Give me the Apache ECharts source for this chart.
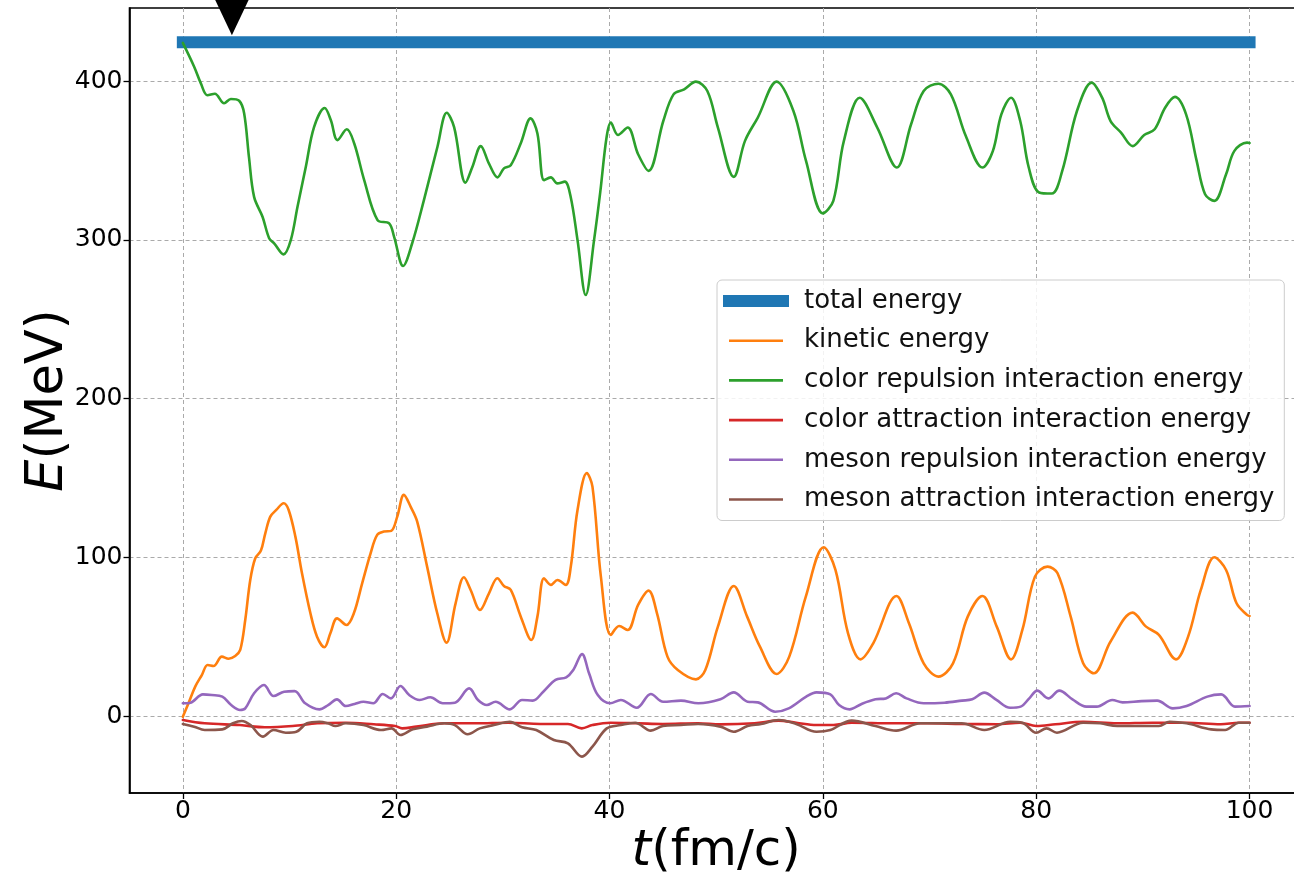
<!DOCTYPE html>
<html><head><meta charset="utf-8">
<script src="https://cdn.jsdelivr.net/npm/echarts@6/dist/echarts.min.js"></script>
<style>html,body{margin:0;padding:0;background:#fff}#c{width:1294px;height:873px}</style>
</head><body><div id="c"></div><script>
const xTicks = [0, 20, 40, 60, 80, 100];
const yTicks = [0, 100, 200, 300, 400];
const seriesNames = ['total energy','kinetic energy','color repulsion interaction energy','color attraction interaction energy','meson repulsion interaction energy','meson attraction interaction energy'];
const totalEnergy = [[0,424.5],[100,424.5]];
const marker = [[4.6,441.5]];
const kinetic = [[0,-0.5],[0.53,8],[1.16,18.5],[1.78,25.8],[2.32,32.1],[2.88,31.5],[3.66,37.4],[4.29,36.1],[4.91,37.8],[5.38,41.6],[5.85,60.5],[6.32,85.7],[6.79,99.4],[7.32,104.2],[7.73,115.1],[8.2,125.6],[8.76,129.8],[9.45,134],[9.92,129.8],[10.55,113],[11.17,89.9],[11.96,64.7],[12.58,50],[13.27,43.3],[13.83,52.1],[14.46,61.5],[15.34,57.3],[16.03,64.7],[16.81,83.6],[17.6,102.5],[18.22,114.1],[18.85,116.2],[19.53,116.6],[20.1,125.6],[20.72,139.3],[21.35,131.9],[21.97,122.5],[22.9,94.1],[23.85,64.7],[24.72,46.2],[25.57,71],[26.35,87.4],[26.98,79.4],[27.86,66.8],[28.7,77.3],[29.49,86.8],[30.1,81.9],[30.74,79.4],[31.68,62.6],[32.67,47.9],[33.24,62.6],[33.86,86.8],[34.49,82.6],[35.12,85.7],[35.9,82.6],[36.37,94.1],[37.0,129.8],[37.87,153],[38.4,144.5],[39.19,87.8],[40.12,51.1],[40.9,56.7],[41.7,54.2],[42.68,70],[43.66,79],[44.45,64.7],[45.43,37.4],[46.4,29],[48.1,23.1],[48.98,29],[50.16,56.3],[51.65,81.9],[52.9,62.6],[54.1,43.7],[55.67,26.5],[56.85,37.4],[58.4,75.2],[60.08,106.3],[61.18,92],[62.36,52.1],[63.54,35.7],[64.72,45.8],[66.9,75.6],[68.07,58.4],[69.45,33.2],[70.83,24.8],[72.2,33.2],[73.58,62.6],[74.96,75.6],[76.3,56.3],[77.64,35.7],[78.7,54.2],[79.88,87.8],[81.06,94.1],[82.0,89.9],[83.23,62.6],[84.4,33.2],[85.4,26.9],[86.97,46.9],[89.05,65.1],[90.3,56.3],[91.5,51.1],[93.1,35.7],[94.24,50],[95.43,79.4],[96.7,100],[97.8,92],[98.78,71],[99.76,63.7],[100,63]];
const colorRepulsion = [[0,424],[1.06,409],[1.69,398.5],[2.31,391],[3.0,392],[3.87,386],[4.5,388.7],[5.28,387.6],[5.75,379.6],[6.2,352],[6.68,327],[7.47,314.5],[8.09,301],[8.56,297.8],[9.44,290.8],[10.12,299.8],[10.75,320.8],[11.53,346],[12.3,371],[13.3,383],[13.87,375.4],[14.5,362.8],[15.37,369.6],[16.06,360.8],[17.0,337.6],[18.25,312.4],[19.34,310.3],[19.8,302],[20.65,283.5],[21.5,297.8],[22.6,325],[23.87,358.6],[24.74,380],[25.43,371],[26.5,336],[27.15,346],[27.93,359],[28.7,348],[29.5,339.3],[30.1,345],[30.74,347],[31.68,360.8],[32.6,376.5],[33.24,367],[33.86,337.6],[34.5,339.3],[35.1,335.5],[35.8,336.6],[36.36,327],[37,299.8],[37.77,265.2],[38.55,299.8],[39.13,330],[39.72,364.4],[40.12,373.8],[40.79,366],[41.7,370.7],[42.68,353.9],[43.66,343.4],[45.04,374.8],[46.0,391.6],[47.0,394.8],[48.1,399.6],[49.17,393.7],[50.16,370.7],[51.65,339.6],[52.7,362.3],[53.9,377],[55.67,399.6],[57.24,381.1],[58.42,349.7],[60.0,316.6],[60.98,324.5],[61.97,362.3],[63.46,389.5],[65.1,370.7],[66.93,345.5],[68.27,372.8],[69.45,393.7],[70.83,398.3],[72.0,391.6],[73.4,365.4],[74.96,345.5],[75.94,356],[76.73,379],[77.64,389.5],[78.5,374.8],[79.3,345.5],[80.27,329.8],[81.46,329.1],[82.44,343.4],[83.82,381.1],[85.2,399],[86.18,389.5],[86.97,374.8],[87.95,367.5],[89.05,359],[90.12,366],[91.1,369.6],[92.08,383.2],[93.0,390],[94.05,379],[95.04,349.7],[95.83,328.7],[96.7,324.5],[97.8,341.3],[98.58,356],[99.76,361.2],[100,361]];
const colorAttraction = [[0,-2.5],[2.05,-4.6],[5.36,-5.7],[7.67,-7.1],[10.3,-6.3],[12.6,-4.6],[15.27,-4.2],[17.9,-5.2],[19.9,-6.3],[20.56,-7.8],[21.9,-6.7],[24.5,-4.6],[27.5,-4.6],[30.5,-4.2],[33.5,-5],[36.1,-5],[37.4,-7.8],[38.4,-5.7],[40.07,-4.2],[42.7,-4.6],[45,-5],[48.3,-4.6],[50.4,-5.3],[53.6,-4.6],[55.85,-2.9],[57.5,-4.2],[59.4,-5.7],[61,-5.7],[62.7,-4.2],[66.5,-4.6],[69.8,-4.6],[73,-5],[76.3,-5.2],[78.5,-4.2],[80,-6.3],[81.8,-5.2],[84.4,-3.6],[87.6,-4.6],[90.9,-4.2],[94.1,-4.2],[97.3,-5.2],[99,-4.2],[100,-4.2]];
const mesonRepulsion = [[0,8],[0.73,8.4],[1.88,13.6],[2.71,13.2],[3.7,12.2],[4.53,6.9],[5.36,3.8],[5.85,4.8],[6.68,14.3],[7.6,19.5],[8.5,12.6],[9.49,15.3],[10.48,15.7],[11.47,8],[12.8,4.2],[13.62,6.9],[14.45,10.5],[15.27,6.3],[16.1,7.6],[16.93,9],[17.85,8],[18.74,13.9],[19.5,11.1],[20.4,18.9],[21.22,13.2],[22.2,10.1],[23.2,11.8],[24.36,8],[25.5,8.4],[26.84,17.4],[27.67,10.1],[28.5,6.9],[29.32,9],[30.65,4.2],[31.8,10.1],[32.8,9.7],[33.79,15.3],[34.94,22.7],[35.94,24.4],[36.6,29],[37.42,39],[38.08,26.9],[38.9,13.2],[40.07,8],[41.06,10.1],[42.55,5.2],[43.87,13.9],[45.03,9],[46.7,9.7],[48.33,8],[50.4,10.5],[51.64,14.9],[52.94,9],[53.9,8.6],[55.53,2.7],[56.8,4.8],[58.44,12.2],[59.4,14.9],[60.7,13.6],[61.52,6.9],[62.5,4.2],[63.63,7.6],[64.93,10.5],[65.9,11.1],[66.87,14.3],[67.84,11.1],[69.46,8],[71.4,8.4],[73.03,9.7],[74.0,10.5],[75.13,14.7],[76.27,10.1],[77.56,5.2],[78.54,5.9],[79.35,11.1],[80.1,16],[81.13,11.1],[82.16,16],[83.4,10.5],[84.7,5.9],[85.67,5.9],[87.13,10.1],[88.1,8.6],[89.88,9.4],[91.34,9.7],[92.8,4.8],[94.1,6.3],[96.04,12.2],[97.34,13.6],[98.63,5.9],[100,6.3]];
const mesonAttraction = [[0,-5],[1.06,-6.7],[2.05,-8.8],[3.7,-8.4],[4.7,-4.6],[5.52,-3.1],[6.35,-5.7],[7.5,-13],[8.5,-8.8],[9.65,-10.5],[10.64,-9.9],[11.64,-4.6],[12.8,-3.6],[13.62,-4.6],[14.3,-6.3],[15.27,-4.6],[16.93,-5.7],[18.58,-8.8],[19.57,-7.8],[20.4,-12],[21.55,-8.4],[22.88,-6.7],[24.5,-4.6],[25.5,-5.7],[26.7,-11.5],[27.84,-7.8],[29.16,-5.7],[30.65,-3.6],[31.8,-7.1],[33.13,-8.8],[34.78,-15.1],[36.1,-17.2],[37.42,-25.6],[38.4,-19.3],[39.74,-7.8],[41.06,-5.7],[42.4,-4.2],[43.87,-9.2],[45,-6.3],[46.7,-5.7],[48.3,-5],[50.4,-6.7],[51.64,-9.9],[52.94,-6.3],[54.2,-5],[55.85,-2.5],[57.5,-5],[59.4,-9.9],[60.7,-8.8],[62.7,-2.9],[64.93,-6.3],[66.87,-9.2],[69.14,-4.6],[73,-4.6],[75.13,-8.8],[77.56,-3.6],[78.7,-4.2],[80,-10.5],[80.97,-7.8],[81.94,-10.5],[84.4,-4.2],[86,-4.6],[87.6,-6.3],[91.5,-6.3],[92.5,-3.6],[94.1,-4.6],[96.4,-8.4],[97.7,-8.8],[99,-4.2],[100,-4.2]];

const colors = ['#1f77b4','#ff7f0e','#2ca02c','#d62728','#9467bd','#8c564b'];
const dataSets = [totalEnergy, kinetic, colorRepulsion, colorAttraction, mesonRepulsion, mesonAttraction];
const FONT = 'DejaVu Sans';

const series = dataSets.map((d, i) => ({
  name: seriesNames[i], type: 'line', data: d, symbol: 'none', showSymbol: false,
  smooth: i === 0 ? false : 0.35, z: 2 + i,
  lineStyle: { color: colors[i], width: i === 0 ? 12 : 2.6, cap: i === 0 ? 'square' : 'round', join: 'round' },
  itemStyle: { color: colors[i] }
}));
series.push({
  type: 'scatter', data: marker, symbol: 'triangle', symbolRotate: 180, symbolSize: [38, 40],
  itemStyle: { color: '#000', opacity: 1 }, clip: false, z: 20, silent: true
});

const legendData = seriesNames.map((n, i) => ({
  name: n,
  lineStyle: { width: i === 0 ? 12 : 2.6, color: colors[i], cap: i === 0 ? 'square' : 'butt' }
}));

const chart = echarts.init(document.getElementById('c'), null, { renderer: 'canvas' });
chart.setOption({
  animation: false,
  backgroundColor: '#fff',
  grid: { left: 129.5, width: 1173.4, top: 8, bottom: 80, outerBoundsMode: 'none', containLabel: false, show: true, borderColor: '#000', borderWidth: 1.6, backgroundColor: 'transparent' },
  xAxis: {
    type: 'value', min: -5, max: 105,
    name: '{i|t}(fm/c)', nameLocation: 'middle', nameGap: 34, nameMoveOverlap: false,
    nameTextStyle: { fontFamily: FONT, fontSize: 50, color: '#000', lineHeight: 50, rich: { i: { fontFamily: FONT, fontStyle: 'italic', fontSize: 50, color: '#000', lineHeight: 50 } } },
    axisLine: { show: true, onZero: false, lineStyle: { color: '#000', width: 1.6 } },
    axisTick: { show: true, length: 6, customValues: xTicks, lineStyle: { color: '#000', width: 1.3 } },
    axisLabel: { customValues: xTicks, margin: 6, fontFamily: FONT, fontSize: 25, color: '#000' },
    splitLine: { show: true, lineStyle: { color: '#aaaaaa', type: [4, 3], width: 1 } }
  },
  yAxis: {
    type: 'value', min: -48.5, max: 446,
    name: '{i|E}(MeV)', nameLocation: 'middle', nameGap: 55, nameMoveOverlap: false,
    nameTextStyle: { fontFamily: FONT, fontSize: 51, color: '#000', lineHeight: 51, rich: { i: { fontFamily: FONT, fontStyle: 'italic', fontSize: 51, color: '#000', lineHeight: 51 } } },
    axisLine: { show: true, onZero: false, lineStyle: { color: '#000', width: 1.6 } },
    axisTick: { show: true, length: 6, customValues: yTicks, lineStyle: { color: '#000', width: 1.3 } },
    axisLabel: { customValues: yTicks, margin: 7, fontFamily: FONT, fontSize: 25, color: '#000' },
    splitLine: { show: true, lineStyle: { color: '#aaaaaa', type: [4, 3], width: 1 } }
  },
  legend: {
    orient: 'vertical', left: 717, top: 280, padding: [8, 10, 8, 6],
    itemWidth: 54, itemHeight: 14, itemGap: 13.7,
    backgroundColor: 'rgba(255,255,255,0.85)', borderColor: '#cccccc', borderWidth: 1, borderRadius: 5,
    textStyle: { fontFamily: FONT, fontSize: 26, color: '#111', lineHeight: 26, padding: [0, 0, 0, 16] },
    itemStyle: { opacity: 0 },
    data: legendData
  },
  series: series
});
</script></body></html>
